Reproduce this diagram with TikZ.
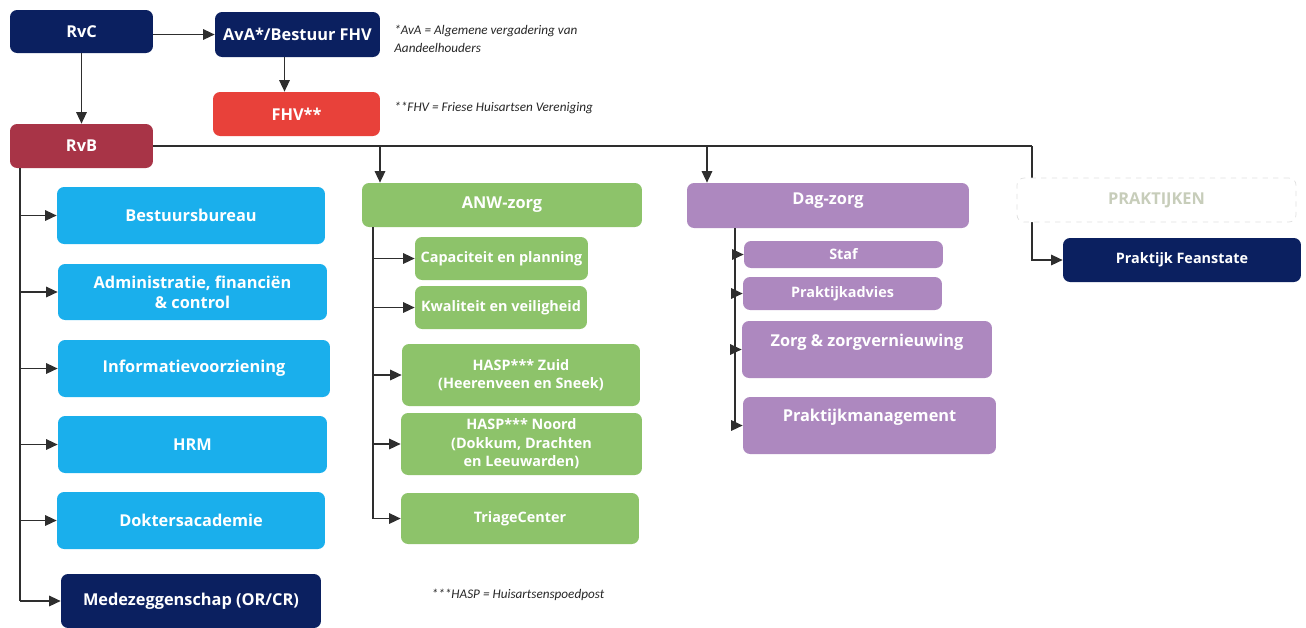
\documentclass[tikz,border=0pt]{standalone}
\usepackage{fontspec}
\setmainfont{Open Sans}
\newfontfamily\notefont{Carlito}
\usetikzlibrary{arrows.meta}

\definecolor{navy}{HTML}{0B2060}
\definecolor{rvbred}{HTML}{A83447}
\definecolor{fhvred}{HTML}{E8413A}
\definecolor{afdblue}{HTML}{1AAFEC}
\definecolor{anwgreen}{HTML}{8DC36A}
\definecolor{dagpurple}{HTML}{AD88BF}
\definecolor{prkgray}{HTML}{C7CDBA}
\definecolor{lijn}{HTML}{2E2E2E}

\begin{document}
\begin{tikzpicture}[x=0.02cm,y=-0.02cm,
    blok/.style={rectangle,rounded corners=4pt,text=white,align=center,inner sep=0pt,
      font=\fontsize{9.3}{11.2}\selectfont\bfseries},
    klein/.style={font=\fontsize{8.2}{10.5}\selectfont\bfseries},
    hoog/.style={text height=6.5pt,text depth=#1},
    pijl/.style={draw=lijn,line width=0.8pt,-{Triangle[length=2.3mm,width=2.1mm]}},
    lijnstuk/.style={draw=lijn,line width=0.8pt},
    noot/.style={font=\notefont\itshape\fontsize{7.5}{10.2}\selectfont,text=black!85,align=left,inner sep=0pt}]
  \useasboundingbox (0,0) rectangle (1306,627);

  % top
  \node[blok,fill=navy,minimum width=2.86cm,minimum height=0.86cm] (rvc) at (81.5,31.5) {RvC};
  \node[blok,fill=navy,minimum width=3.3cm,minimum height=0.9cm] (ava) at (297.5,34.5) {AvA*/Bestuur FHV};
  \node[blok,fill=fhvred,minimum width=3.34cm,minimum height=0.88cm] (fhv) at (296.5,114) {FHV**};
  \node[blok,fill=rvbred,minimum width=2.86cm,minimum height=0.88cm] (rvb) at (81.5,146) {RvB};
  \node[noot,anchor=west] (nava) at (394,39) {*AvA = Algemene vergadering van\\Aandeelhouders};
  \node[noot,anchor=west] (nfhv) at (394,108) {**FHV = Friese Huisartsen Vereniging};

  % staf afdelingen
  \node[blok,fill=afdblue,minimum width=5.36cm,minimum height=1.14cm] (bb) at (191,215.5) {Bestuursbureau};
  \node[blok,fill=afdblue,minimum width=5.38cm,minimum height=1.12cm] (afc) at (192.5,292) {Administratie, financiën\\\& control};
  \node[blok,fill=afdblue,minimum width=5.44cm,minimum height=1.14cm] (iv) at (194,368.5) {Informatievoorziening};
  \node[blok,fill=afdblue,minimum width=5.38cm,minimum height=1.14cm] (hrm) at (192.5,444.5) {HRM};
  \node[blok,fill=afdblue,minimum width=5.36cm,minimum height=1.14cm] (da) at (191,520.5) {Doktersacademie};
  \node[blok,fill=navy,minimum width=5.2cm,minimum height=1.08cm] (mz) at (191,601) {Medezeggenschap (OR/CR)};

  % ANW-zorg
  \node[blok,fill=anwgreen,minimum width=5.6cm,minimum height=0.88cm] (anw) at (502,205) {ANW-zorg};
  \node[blok,klein,fill=anwgreen,minimum width=3.46cm,minimum height=0.86cm] (cap) at (501.5,258.5) {Capaciteit en planning};
  \node[blok,klein,fill=anwgreen,minimum width=3.44cm,minimum height=0.86cm] (kw) at (501,307.5) {Kwaliteit en veiligheid};
  \node[blok,klein,fill=anwgreen,minimum width=4.76cm,minimum height=1.24cm] (hz) at (521,375) {HASP*** Zuid\\(Heerenveen en Sneek)};
  \node[blok,klein,fill=anwgreen,minimum width=4.82cm,minimum height=1.24cm] (hn) at (521.5,444) {HASP*** Noord\\(Dokkum, Drachten\\en Leeuwarden)};
  \node[blok,klein,fill=anwgreen,minimum width=4.76cm,minimum height=1.02cm] (tc) at (520,518.5) {TriageCenter};
  \node[noot,anchor=center] (nhasp) at (518,595) {***HASP = Huisartsenspoedpost};

  % Dag-zorg
  \node[blok,hoog=8pt,fill=dagpurple,minimum width=5.64cm,minimum height=0.9cm] (dag) at (828,205.5) {Dag-zorg};
  \node[blok,klein,fill=dagpurple,minimum width=3.98cm,minimum height=0.54cm] (staf) at (843.5,254.5) {Staf};
  \node[blok,klein,fill=dagpurple,minimum width=3.98cm,minimum height=0.66cm] (pa) at (842.5,293.5) {Praktijkadvies};
  \node[blok,hoog=9.6pt,fill=dagpurple,minimum width=5.0cm,minimum height=1.14cm] (zz) at (867,349.5) {Zorg \& zorgvernieuwing};
  \node[blok,hoog=10.6pt,fill=dagpurple,minimum width=5.06cm,minimum height=1.14cm] (pm) at (869.5,425.5) {Praktijkmanagement};

  % praktijken
  \node[blok,klein,fill=navy,minimum width=4.76cm,minimum height=0.88cm] (pf) at (1182,260) {Praktijk Feanstate};

  \coordinate (kp) at (1032,146);
  \coordinate (k1) at (380,146);
  \coordinate (k2) at (707,146);
  \coordinate (lt) at (20,168);
  \coordinate (at) at (373,227);
  \coordinate (dt) at (735,228);

  \draw[pijl] (rvc.south) -- (rvb.north);
  \draw[pijl] (rvc.east |- ava) -- (ava.west);
  \draw[pijl] ([xshift=-0.26cm]ava.south) -- ([xshift=-0.26cm]ava.south |- fhv.north);
  \draw[lijnstuk] (rvb.east) -- (kp);
  \draw[pijl] (k1) -- (k1 |- anw.north);
  \draw[pijl] (k2) -- (k2 |- dag.north);
  \draw[pijl] (kp) |- (pf.west);

  \draw[lijnstuk] (lt) -- (lt |- mz.west);
  \foreach \b in {bb,afc,iv,hrm,da,mz}
    \draw[pijl] (lt |- \b.west) -- (\b.west);

  \draw[lijnstuk] (at) -- (at |- tc.west);
  \foreach \b in {cap,kw,hz,hn,tc}
    \draw[pijl] (at |- \b.west) -- (\b.west);

  \draw[lijnstuk] (dt) -- (dt |- pm.west);
  \foreach \b in {staf,pa,zz,pm}
    \draw[pijl] (dt |- \b.west) -- (\b.west);

  % on top of the line
  \node[blok,fill=white,draw=black!12,dashed,text=prkgray,minimum width=5.58cm,minimum height=0.88cm] (prk) at (1156.5,200) {PRAKTIJKEN};
\end{tikzpicture}
\end{document}
